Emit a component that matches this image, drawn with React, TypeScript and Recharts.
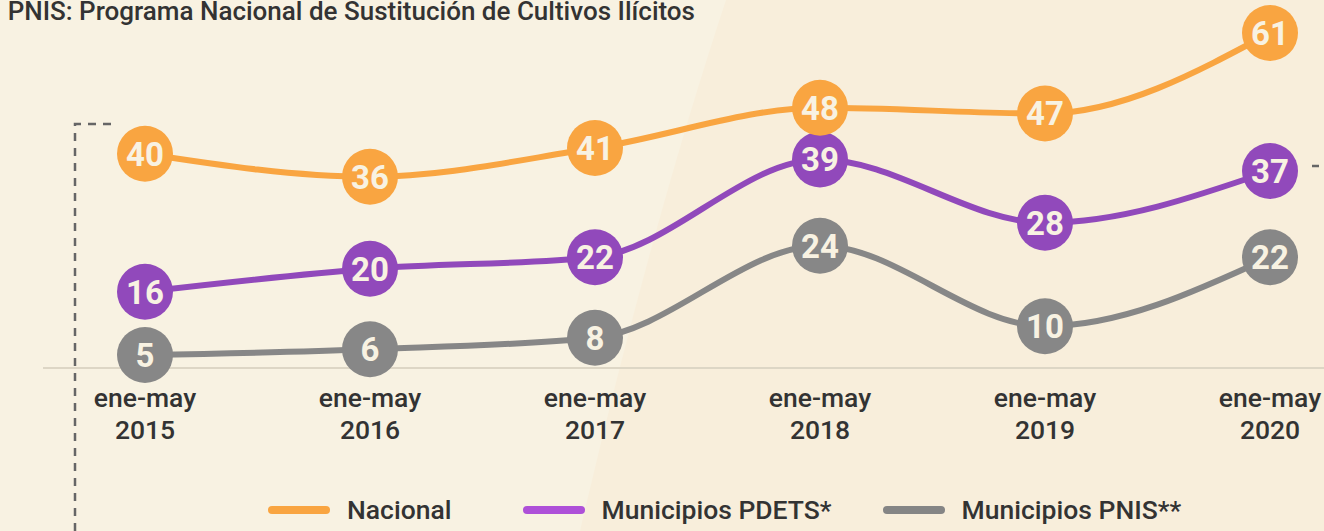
import React from "react";
import { LineChart, Line, XAxis, YAxis, ReferenceLine } from "recharts";

const periods = ["ene-may 2015", "ene-may 2016", "ene-may 2017", "ene-may 2018", "ene-may 2019", "ene-may 2020"];
const nacional = [40, 36, 41, 48, 47, 61];
const pdets = [16, 20, 22, 39, 28, 37];
const pnis = [5, 6, 8, 24, 10, 22];

const seriesNames = ["Nacional", "Municipios PDETS*", "Municipios PNIS**"];
const title = "PNIS: Programa Nacional de Sustitución de Cultivos Ilícitos";

const data = periods.map((p, i) => ({
  period: p,
  nacional: nacional[i],
  pdets: pdets[i],
  pnis: pnis[i],
}));

const W = 1324;
const H = 531;
const FONT = "Roboto, 'Noto Sans', sans-serif";
const TEXT_BG = "#f8f2e2";

const series = [
  { key: "pnis", name: seriesNames[2], color: "#878787", legend: "#858585" },
  { key: "pdets", name: seriesNames[1], color: "#9149bb", legend: "#ae50d8" },
  { key: "nacional", name: seriesNames[0], color: "#f9a541", legend: "#f9a541" },
];

const makeDot = (color: string, dataKey: string) => (props: any) => {
  const { cx, cy, payload, index } = props;
  if (cx == null || cy == null) return <g key={`d-${dataKey}-${index}`} />;
  return (
    <g key={`d-${dataKey}-${index}`}>
      <circle cx={cx} cy={cy} r={28} fill={color} />
      <text
        x={cx}
        y={cy}
        dy="0.36em"
        textAnchor="middle"
        fontFamily={FONT}
        fontWeight={700}
        fontSize={33}
        fill={TEXT_BG}
      >
        {payload[dataKey]}
      </text>
    </g>
  );
};

const Tick = (props: any) => {
  const { x, y, payload } = props;
  const parts = String(payload.value).split(" ");
  return (
    <text x={x} y={y} textAnchor="middle" fontFamily={FONT} fontWeight={500} fontSize={26.5} fill="#333333">
      <tspan x={x} dy={23}>{parts[0]}</tspan>
      <tspan x={x} dy={32}>{parts[1]}</tspan>
    </text>
  );
};

export default function App() {
  const legendOrder = [series[2], series[1], series[0]];
  return (
    <div style={{ position: "absolute", left: 0, top: 0, width: W, height: H, overflow: "hidden", background: TEXT_BG }}>
      <svg width={W} height={H} style={{ position: "absolute", left: 0, top: 0 }}>
        <path d="M 726 0 Q 650 230 580 531 L 1324 531 L 1324 0 Z" fill="#f8eedb" />
        <text x={695} y={20} textAnchor="end" fontFamily={FONT} fontWeight={500} fontSize={26} fill="#333333">
          {title}
        </text>
        <path d="M 75 531 L 75 124 L 112 124" fill="none" stroke="#666666" strokeWidth={2.5} strokeDasharray="8 7" />
        <line x1={1312} y1={166} x2={1319} y2={166} stroke="#666666" strokeWidth={2.5} />
      </svg>
      <div style={{ position: "absolute", left: 0, top: 0 }}>
        <LineChart width={W} height={H} data={data} margin={{ top: 10, right: 0, bottom: 87.25, left: 43 }}>
          <XAxis
            dataKey="period"
            scale="point"
            padding={{ left: 102, right: 54 }}
            axisLine={false}
            tickLine={false}
            tickSize={0}
            tickMargin={0}
            height={60}
            interval={0}
            tick={<Tick />}
          />
          <YAxis hide domain={[0, 65]} />
          <ReferenceLine y={2.74} stroke="#ddd6c5" strokeWidth={2} />
          {series.map((s) => (
            <Line
              key={s.key}
              type="monotone"
              dataKey={s.key}
              name={s.name}
              stroke={s.color}
              strokeWidth={6}
              dot={makeDot(s.color, s.key)}
              activeDot={false}
              isAnimationActive={false}
            />
          ))}
        </LineChart>
      </div>
      <div
        style={{
          position: "absolute",
          left: 268,
          top: 494,
          display: "flex",
          alignItems: "center",
          fontFamily: FONT,
          fontSize: 26.5,
          fontWeight: 500,
          color: "#333333",
        }}
      >
        {legendOrder.map((s, i) => (
          <div key={s.key} style={{ display: "flex", alignItems: "center", marginRight: i === 0 ? 71 : 51 }}>
            <div style={{ width: 62, height: 8, borderRadius: 4, background: s.legend, marginRight: 17 }} />
            <span style={{ lineHeight: "32px" }}>{s.name}</span>
          </div>
        ))}
      </div>
    </div>
  );
}
